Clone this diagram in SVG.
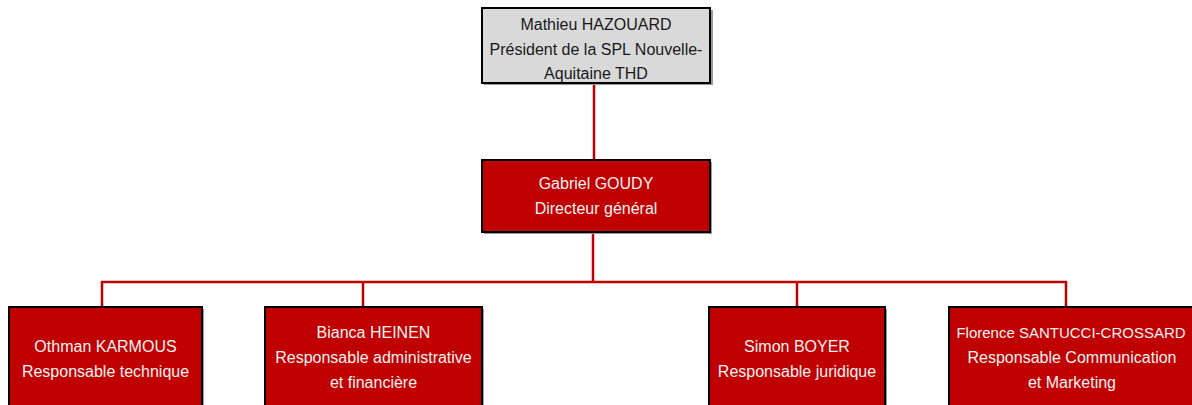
<svg xmlns="http://www.w3.org/2000/svg" width="1192" height="405" viewBox="0 0 1192 405">
<style>
.box{fill:#c00000;stroke:#000;stroke-width:2}
.top{fill:#d9d9d9;stroke:#000;stroke-width:2}
.sh{fill:#9a9a9a}
.t{font-family:"Liberation Sans",Arial,sans-serif;font-size:16px;text-anchor:middle;fill:#f2f2f2}
.tk{font-family:"Liberation Sans",Arial,sans-serif;font-size:16px;text-anchor:middle;fill:#1a1a1a}
.c{fill:none;stroke:#c00000;stroke-width:2.5}
</style>
<g id="connectors">
<path class="c" d="M594 83V160"/>
<path class="c" d="M593 232V282"/>
<path class="c" d="M102 307V282H1066V307"/>
<path class="c" d="M363 282V307"/>
<path class="c" d="M797 282V307"/>
</g>
<g id="n-president">
<rect class="sh" x="484" y="10" width="229" height="75"/>
<rect class="top" x="482" y="8" width="228" height="75"/>
<text class="tk" x="596" y="30">Mathieu HAZOUARD</text>
<text class="tk" x="596" y="55">Président de la SPL Nouvelle-</text>
<text class="tk" x="596" y="79">Aquitaine THD</text>
</g>
<g id="n-directeur">
<rect class="sh" x="484" y="162" width="228" height="72"/>
<rect class="box" x="482" y="160" width="228" height="72"/>
<text class="t" x="596" y="189">Gabriel GOUDY</text>
<text class="t" x="596" y="214">Directeur général</text>
</g>
<g id="n-karmous">
<rect class="sh" x="11" y="309" width="193" height="110"/>
<rect class="box" x="9" y="307" width="193" height="110"/>
<text class="t" x="105.5" y="352">Othman KARMOUS</text>
<text class="t" x="105.5" y="377">Responsable technique</text>
</g>
<g id="n-heinen">
<rect class="sh" x="267" y="309" width="217" height="110"/>
<rect class="box" x="265" y="307" width="217" height="110"/>
<text class="t" x="373.5" y="338">Bianca HEINEN</text>
<text class="t" x="373.5" y="363">Responsable administrative</text>
<text class="t" x="373.5" y="388">et financière</text>
</g>
<g id="n-boyer">
<rect class="sh" x="711" y="309" width="176" height="110"/>
<rect class="box" x="709" y="307" width="176" height="110"/>
<text class="t" x="797" y="352">Simon BOYER</text>
<text class="t" x="797" y="377">Responsable juridique</text>
</g>
<g id="n-santucci">
<rect class="sh" x="951" y="309" width="250" height="110"/>
<rect class="box" x="949" y="307" width="250" height="110"/>
<text class="t" x="1071" y="338" style="font-size:15px">Florence SANTUCCI-CROSSARD</text>
<text class="t" x="1072" y="363">Responsable Communication</text>
<text class="t" x="1072" y="388">et Marketing</text>
</g>
</svg>
